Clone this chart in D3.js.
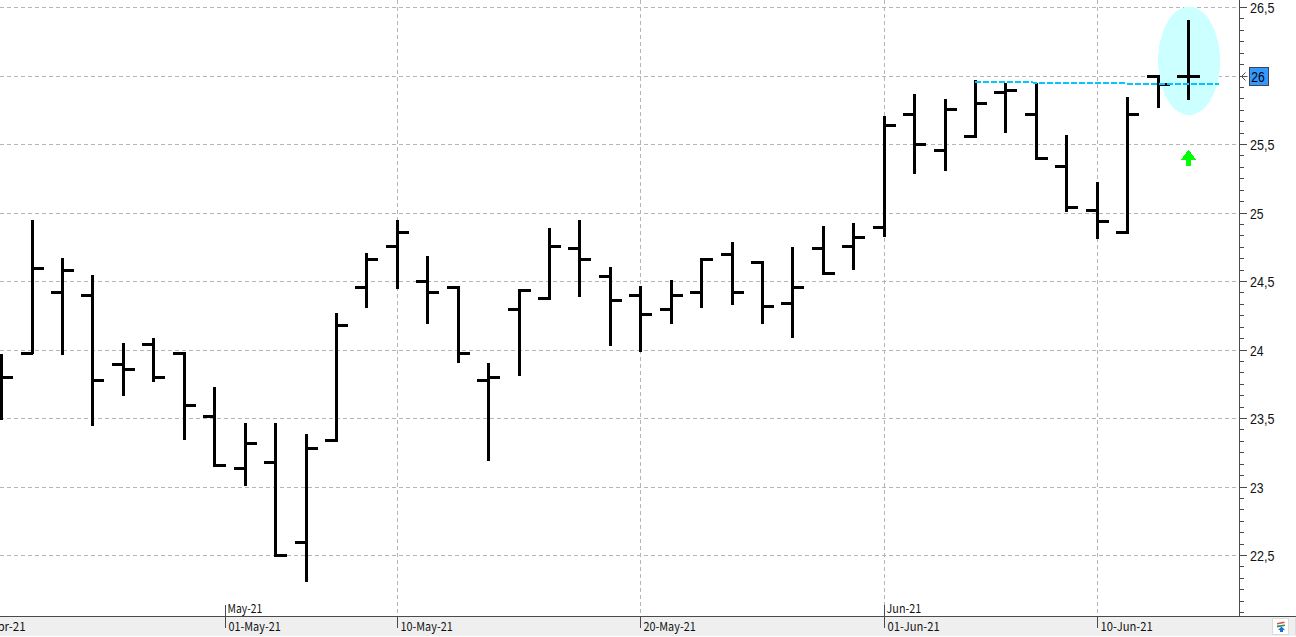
<!DOCTYPE html>
<html><head><meta charset="utf-8">
<script src="https://cdn.jsdelivr.net/npm/d3@7"></script>
<style>html,body{margin:0;padding:0;background:#fff;overflow:hidden}svg{display:block}text{font-family:"Noto Sans CJK KR","Liberation Sans",sans-serif;}</style>
</head><body>
<script>
const opens=[23.85,23.974,24.420,24.398,23.894,24.040,23.974,23.515,23.135,23.179,22.595,23.339,24.456,24.755,24.5,24.456,23.777,24.296,24.376,24.741,24.536,24.398,24.296,24.420,24.697,24.639,24.339,24.741,24.755,24.894,25.719,25.456,25.558,25.880,25.719,25.339,25.018,24.858,25.996,25.996];
const highs=[23.969,24.947,24.670,24.546,24.050,24.086,23.982,23.728,23.466,23.466,23.385,24.269,24.707,24.947,24.685,24.466,23.904,24.442,24.889,24.947,24.604,24.466,24.509,24.670,24.787,24.648,24.750,24.904,24.926,25.707,25.867,25.831,25.969,25.947,25.947,25.568,25.225,25.845,26.004,26.407];
const lows=[23.488,23.970,23.962,23.444,23.663,23.765,23.342,23.145,23.004,22.490,22.305,23.332,24.305,24.444,24.188,23.904,23.188,23.809,24.364,24.385,24.028,23.984,24.188,24.305,24.327,24.188,24.086,24.546,24.583,24.823,25.283,25.305,25.546,25.582,25.385,25.006,24.809,24.845,25.765,25.823];
const closes=[23.799,24.595,24.580,23.777,23.858,23.799,23.595,23.157,23.318,22.500,23.281,24.179,24.661,24.858,24.420,23.974,23.799,24.434,24.755,24.661,24.361,24.259,24.398,24.661,24.420,24.318,24.456,24.558,24.821,25.639,25.5,25.755,25.799,25.894,25.398,25.040,24.938,25.719,25.935,25.996];
const yTicks=[22.5,23,23.5,24,24.5,25,25.5,26,26.5];
const dateTicks=[{i:-1.03,label:"20-Apr-21"},{i:7.36,label:"01-May-21"},{i:13,label:"10-May-21"},{i:21,label:"20-May-21"},{i:29,label:"01-Jun-21"},{i:36,label:"10-Jun-21"}];
const monthTicks=[{i:7.36,label:"May-21"},{i:29,label:"Jun-21"}];
const gridDates=[13,21,29,36];
const trendI=[32,40], trendV=[25.957,25.938];
const lastPrice="26";
const signalValue=25.4;

const W=1296,H=637,axisX=1239.5,baseY=616.5;
const x=d3.scaleLinear().domain([0,39]).range([1.7,1.7+30.43*39]);
const y=d3.scaleLinear().domain([26.5,22.5]).range([7.5,555.5]);
const cx=i=>Math.floor(x(i))+.5, cy=v=>Math.floor(y(v))+.5;
const svg=d3.select("body").append("svg").attr("width",W).attr("height",H);
const grid="#b5b5b5", axisC="#4a4a4a";

// footer band
svg.append("rect").attr("x",0).attr("y",baseY).attr("width",W).attr("height",19.5).attr("fill","#efefef");

// grid
const g=svg.append("g").attr("stroke",grid).attr("stroke-dasharray","4,3").attr("shape-rendering","crispEdges");
g.selectAll(".h").data(yTicks).join("line").attr("x1",0).attr("x2",axisX).attr("y1",cy).attr("y2",cy);
g.selectAll(".v").data(gridDates).join("line").attr("x1",cx).attr("x2",cx).attr("y1",0).attr("y2",baseY);

// highlight ellipse
const eY0=y(26.505),eY1=y(25.715);
svg.append("ellipse").attr("cx",x(39)+.6).attr("cy",(eY0+eY1)/2).attr("rx",31).attr("ry",(eY1-eY0)/2).attr("fill","#ccffff").attr("shape-rendering","crispEdges");

// bars
const bars=svg.append("g").attr("stroke","#000").attr("stroke-width",3).attr("shape-rendering","crispEdges");
const idx=d3.range(opens.length);
bars.selectAll(".s").data(idx).join("line").attr("x1",cx).attr("x2",cx).attr("y1",i=>Math.round(y(highs[i]))).attr("y2",i=>Math.round(y(lows[i])));
bars.selectAll(".o").data(idx).join("line").attr("x1",i=>cx(i)-11.5).attr("x2",cx).attr("y1",i=>cy(opens[i])).attr("y2",i=>cy(opens[i]));
bars.selectAll(".c").data(idx).join("line").attr("x1",cx).attr("x2",i=>cx(i)+11.5).attr("y1",i=>cy(closes[i])).attr("y2",i=>cy(closes[i]));

// trend line
svg.append("line").attr("x1",x(trendI[0])).attr("x2",x(trendI[1])).attr("y1",y(trendV[0])).attr("y2",y(trendV[1]))
  .attr("stroke","#00c8ff").attr("stroke-width",2).attr("stroke-dasharray","6,2").attr("shape-rendering","crispEdges");

// arrow
svg.append("path").attr("transform",`translate(${cx(39)},${y(signalValue)})`).attr("d","M0,-8.5 L7.5,1.5 L2.5,1.5 L2.5,7.5 L-2.5,7.5 L-2.5,1.5 L-7.5,1.5 Z").attr("fill","#00ff00").attr("shape-rendering","crispEdges");

// y axis
const ax2=svg.append("g").attr("stroke",axisC).attr("shape-rendering","crispEdges");
ax2.append("line").attr("x1",axisX).attr("x2",axisX).attr("y1",0).attr("y2",baseY);
const minor=d3.range(-1,60).map(k=>26.5-k/12).filter(v=>y(v)<baseY-2&&y(v)>-1);
ax2.selectAll(".t").data(minor).join("line").attr("x1",axisX).attr("y1",cy).attr("y2",cy)
  .attr("x2",v=>axisX+(yTicks.some(t=>Math.abs(t-v)<1e-6)?7:4));
const fmt=v=>String(v).replace(".",",");
svg.append("g").selectAll("text").data(yTicks.filter(v=>v!==26)).join("text").attr("x",1250).attr("y",v=>cy(v)+5).attr("font-size",14).attr("fill","#111")
  .style("font-family","'Liberation Sans'").attr("textLength",v=>fmt(v).length>2?24.5:13.5).attr("lengthAdjust","spacingAndGlyphs")
  .text(fmt);

// last-price badge
const by=cy(26);
svg.append("path").attr("d",`M${axisX+6},${by-4} L${axisX+2},${by} L${axisX+6},${by+4} M${axisX+2},${by} L${axisX+8},${by}`).attr("fill","none").attr("stroke","#555");
svg.append("rect").attr("x",1249.5).attr("y",by-9).attr("width",19).attr("height",18).attr("fill","#3399ff").attr("stroke","#444").attr("shape-rendering","crispEdges");
svg.append("text").attr("x",1251.3).attr("y",by+5).attr("font-size",14).attr("fill","#000")
  .style("font-family","'Liberation Sans'").attr("textLength",13.5).attr("lengthAdjust","spacingAndGlyphs").text(lastPrice);

// x axis
svg.append("line").attr("x1",0).attr("x2",W).attr("y1",baseY).attr("y2",baseY).attr("stroke",axisC).attr("shape-rendering","crispEdges");
svg.append("g").attr("stroke",axisC).attr("shape-rendering","crispEdges").selectAll("line").data(dateTicks).join("line")
  .attr("x1",d=>cx(d.i)).attr("x2",d=>cx(d.i)).attr("y1",baseY).attr("y2",baseY+11);
svg.append("g").attr("stroke",axisC).attr("shape-rendering","crispEdges").selectAll("line").data(monthTicks).join("line")
  .attr("x1",d=>cx(d.i)).attr("x2",d=>cx(d.i)).attr("y1",baseY-12).attr("y2",baseY);
svg.append("g").selectAll("text").data(dateTicks).join("text").attr("x",d=>cx(d.i)+3).attr("y",631).attr("font-size",12).attr("fill","#111")
  .attr("textLength",d=>d.label.length*5.8).attr("lengthAdjust","spacingAndGlyphs").text(d=>d.label);
svg.append("g").selectAll("text").data(monthTicks).join("text").attr("x",d=>cx(d.i)+2).attr("y",612.5).attr("font-size",12).attr("fill","#111")
  .attr("textLength",d=>d.label.length*5.8).attr("lengthAdjust","spacingAndGlyphs").text(d=>d.label);

// corner button
svg.append("rect").attr("x",1272.5).attr("y",618.5).attr("width",16).attr("height",16).attr("fill","#fff").attr("stroke","#dcdcdc").attr("shape-rendering","crispEdges");
svg.append("rect").attr("x",1295.5).attr("y",618.5).attr("width",6).attr("height",16).attr("fill","#f4f4f4").attr("stroke","#dcdcdc").attr("shape-rendering","crispEdges");
svg.append("path").attr("d","M1277,623 L1284,621.5 L1285,623 L1277,624.5 Z").attr("fill","#d9534f");
svg.append("path").attr("d","M1277,625.5 L1285,624.5 L1285,626 L1277,627.5 Z").attr("fill","#3f8f4f");
svg.append("path").attr("d","M1281.5,626.5 L1285,630 L1283,630 L1283,632 L1280,632 L1280,630 L1278,630 Z").attr("fill","#1a6fe0");
svg.append("rect").attr("x",0).attr("y",636).attr("width",W).attr("height",1).attr("fill","#fff");
</script>
</body></html>
